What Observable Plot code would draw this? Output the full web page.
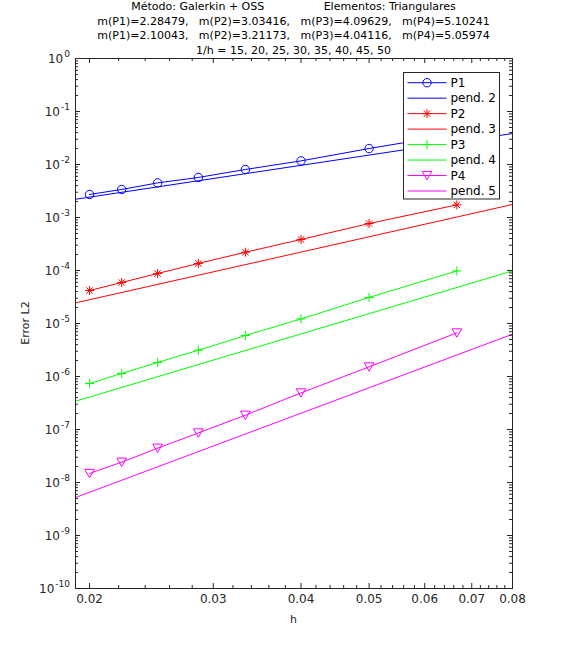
<!DOCTYPE html>
<html><head><meta charset="utf-8">
<script src="https://cdn.jsdelivr.net/npm/d3@7"></script>
<script src="https://cdn.jsdelivr.net/npm/@observablehq/plot@0.6"></script>
<style>
body{margin:0;background:#fff}
svg text{white-space:pre}
</style>
</head><body><div id="chart"></div>
<script>
// ---- data ----
const invH = [50, 45, 40, 35, 30, 25, 20, 15];
const seriesNames = ["P1", "P2", "P3", "P4"];
const seriesColors = ["#0000ff", "#ff0000", "#00ff00", "#ff00ff"];
const errP1 = [2.72e-3, 3.38e-3, 4.50e-3, 5.69e-3, 8.05e-3, 1.17e-2, 2.00e-2, 3.80e-2];
const errP2 = [4.19e-5, 5.94e-5, 8.78e-5, 1.36e-4, 2.21e-4, 3.85e-4, 7.70e-4, 1.73e-3];
const errP3 = [7.38e-7, 1.14e-6, 1.84e-6, 3.13e-6, 5.94e-6, 1.22e-5, 3.10e-5, 9.82e-5];
const errP4 = [1.48e-8, 2.42e-8, 4.44e-8, 8.63e-8, 1.86e-7, 4.91e-7, 1.52e-6, 6.65e-6];
const pendNames = ["pend. 2", "pend. 3", "pend. 4", "pend. 5"];
const pendH = [0.0191, 0.08];
const pend2 = [2.21e-3, 3.84e-2];
const pend3 = [2.45e-5, 1.76e-3];
const pend4 = [3.42e-7, 9.83e-5];
const pend5 = [5.21e-9, 6.28e-6];
const xTicks = [0.02, 0.03, 0.04, 0.05, 0.06, 0.07, 0.08];
const xTickLabels = ["0.02", "0.03", "0.04", "0.05", "0.06", "0.07", "0.08"];
const xMinorTicks = [0.022, 0.024, 0.026, 0.028, 0.032, 0.034, 0.036, 0.038,
  0.042, 0.044, 0.046, 0.048, 0.052, 0.054, 0.056, 0.058, 0.062, 0.064, 0.066, 0.068,
  0.072, 0.074, 0.076, 0.078];
const yExponents = [0, -1, -2, -3, -4, -5, -6, -7, -8, -9, -10];
const titleLines = [
  "Método: Galerkin + OSS                 Elementos: Triangulares",
  "m(P1)=2.28479,   m(P2)=3.03416,   m(P3)=4.09629,   m(P4)=5.10241",
  "m(P1)=2.10043,   m(P2)=3.21173,   m(P3)=4.04116,   m(P4)=5.05974",
  "1/h = 15, 20, 25, 30, 35, 40, 45, 50"
];
const xLabel = "h";
const yLabel = "Error L2";

// ---- tables ----
const errs = [errP1, errP2, errP3, errP4];
const pends = [pend2, pend3, pend4, pend5];
const dataRows = seriesNames.map((s, k) => invH.map((n, i) => ({series: s, h: 1 / n, err: errs[k][i]})));
const pendRows = pendNames.map((s, k) => pendH.map((h, i) => ({series: s, h, err: pends[k][i]})));
const yMajor = yExponents.map(e => Math.pow(10, e));
const yMinor = yExponents.slice(1).flatMap(e => [2,3,4,5,6,7,8,9].map(m => m * Math.pow(10, e)));

// ---- marker symbols (MATLAB style) ----
const symCircle = {draw(c, size) { const r = Math.sqrt(size / Math.PI); c.moveTo(r, 0); c.arc(0, 0, r, 0, 2 * Math.PI); }};
const symAsterisk = {draw(c, size) { const r = Math.sqrt(size / Math.PI), d = r * 0.7071;
  c.moveTo(-r, 0); c.lineTo(r, 0); c.moveTo(0, -r); c.lineTo(0, r);
  c.moveTo(-d, -d); c.lineTo(d, d); c.moveTo(-d, d); c.lineTo(d, -d); }};
const symPlus = {draw(c, size) { const r = Math.sqrt(size / Math.PI);
  c.moveTo(-r, 0); c.lineTo(r, 0); c.moveTo(0, -r); c.lineTo(0, r); }};
const symTriDown = {draw(c, size) { const r = Math.sqrt(size / Math.PI);
  c.moveTo(-r, -0.85 * r); c.lineTo(r, -0.85 * r); c.lineTo(0, 0.9 * r); c.closePath(); }};
const symbols = [symCircle, symAsterisk, symPlus, symTriDown];
const symR = [4.2, 4.5, 4.6, 4.8];

const W = 567, H = 661, mL = 75, mR = 55, mT = 58, mB = 73;
const pW = W - mL - mR, pH = H - mT - mB;
const axisColor = "#262626";
const font = "DejaVu Sans";

const marks = [];
seriesNames.forEach((s, k) => {
  marks.push(Plot.line(pendRows[k], {x: "h", y: "err", stroke: seriesColors[k], strokeWidth: 1, clip: true}));
  marks.push(Plot.line(dataRows[k], {x: "h", y: "err", stroke: seriesColors[k], strokeWidth: 1}));
  marks.push(Plot.dot(dataRows[k], {x: "h", y: "err", symbol: symbols[k], r: symR[k], stroke: seriesColors[k], fill: "none", strokeWidth: 1}));
});
marks.push(
  Plot.ruleX(xTicks, {x: d => d, insetTop: pH - 5, stroke: axisColor}),
  Plot.ruleX(xTicks, {x: d => d, insetBottom: pH - 5, stroke: axisColor}),
  Plot.ruleX(xMinorTicks, {x: d => d, insetTop: pH - 3, stroke: axisColor}),
  Plot.ruleX(xMinorTicks, {x: d => d, insetBottom: pH - 3, stroke: axisColor}),
  Plot.ruleY(yMajor, {y: d => d, insetRight: pW - 5, stroke: axisColor}),
  Plot.ruleY(yMajor, {y: d => d, insetLeft: pW - 5, stroke: axisColor}),
  Plot.ruleY(yMinor, {y: d => d, insetRight: pW - 3, stroke: axisColor}),
  Plot.ruleY(yMinor, {y: d => d, insetLeft: pW - 3, stroke: axisColor}),
  Plot.frame({stroke: axisColor, strokeWidth: 1}),
  Plot.text(xTicks, {x: d => d, frameAnchor: "bottom", dy: 14, text: (d, i) => xTickLabels[i], fill: axisColor, fontSize: 12})
);

const chart = Plot.plot({
  width: W, height: H,
  marginLeft: mL, marginRight: mR, marginTop: mT, marginBottom: mB,
  style: {fontFamily: font, background: "#fff"},
  x: {type: "log", domain: [0.0191, 0.08], axis: null},
  y: {type: "log", domain: [1e-10, 1], axis: null},
  marks
});
document.getElementById("chart").appendChild(chart);

const svg = d3.select(chart);
const ys = chart.scale("y");
const cx = mL + pW / 2;

// y tick labels 10^e
yExponents.forEach((e, i) => {
  const t = svg.append("text").attr("x", mL - 5).attr("y", ys.apply(yMajor[i]) + 5)
    .attr("text-anchor", "end").attr("fill", axisColor).attr("font-family", font).attr("font-size", 12);
  t.append("tspan").text("10");
  t.append("tspan").attr("dy", -6).attr("dx", 1).attr("font-size", 9).text(String(e));
});

// title
titleLines.forEach((line, i) => {
  svg.append("text").attr("x", cx).attr("y", 10 + i * 14.6).attr("text-anchor", "middle")
    .attr("fill", "#000").attr("font-family", font).attr("font-size", 11).text(line);
});
// axis labels
svg.append("text").attr("x", cx).attr("y", 623).attr("text-anchor", "middle")
  .attr("fill", axisColor).attr("font-family", font).attr("font-size", 11).text(xLabel);
svg.append("text").attr("transform", `translate(28.5,${mT + pH / 2}) rotate(-90)`).attr("text-anchor", "middle")
  .attr("fill", axisColor).attr("font-family", font).attr("font-size", 11).text(yLabel);

// legend
const lg = svg.append("g");
lg.append("rect").attr("x", 403.5).attr("y", 72.5).attr("width", 96).attr("height", 126.5)
  .attr("fill", "#fff").attr("stroke", axisColor).attr("stroke-width", 1);
const legendItems = [];
seriesNames.forEach((s, k) => {
  legendItems.push({label: s, color: seriesColors[k], sym: symbols[k], r: symR[k]});
  legendItems.push({label: pendNames[k], color: seriesColors[k], sym: null});
});
legendItems.forEach((it, i) => {
  const y = 82.7 + i * 15.47;
  lg.append("line").attr("x1", 407.5).attr("x2", 446.5).attr("y1", y).attr("y2", y)
    .attr("stroke", it.color).attr("stroke-width", 1);
  if (it.sym) {
    lg.append("path").attr("transform", `translate(427,${y})`)
      .attr("d", d3.symbol(it.sym, it.r * it.r * Math.PI)())
      .attr("fill", "none").attr("stroke", it.color).attr("stroke-width", 1);
  }
  lg.append("text").attr("x", 450.5).attr("y", y + 4.3).attr("text-anchor", "start").attr("fill", "#000")
    .attr("font-family", font).attr("font-size", 12).text(it.label);
});
</script>
</body></html>
